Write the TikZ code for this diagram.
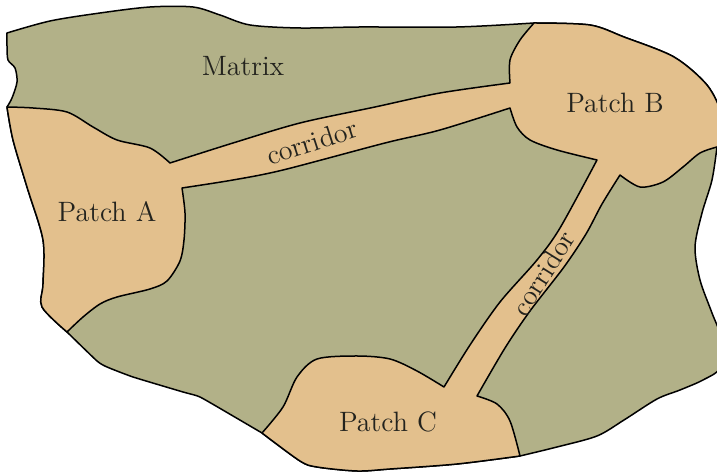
\documentclass[tikz,border=0pt]{standalone}
\definecolor{matrixgreen}{RGB}{178,177,136}
\definecolor{patchtan}{RGB}{227,192,141}
\definecolor{inkgray}{RGB}{35,35,30}
\tikzstyle{matrix area}=[fill=matrixgreen, draw=black, line width=0.75pt, line join=round]
\tikzstyle{patch area}=[fill=patchtan, draw=black, line width=0.75pt, line join=round]
\tikzstyle{region label}=[text=inkgray, font=\fontsize{14}{16}\selectfont, inner sep=0pt]

\begin{document}
\begin{tikzpicture}[x=0.5pt, y=-0.5pt]
      \useasboundingbox (0,0) rectangle (717,474);

      % junctions of the patch edges
      \coordinate (A_top) at (7,107);
      \coordinate (A_corr_top) at (170,163);
      \coordinate (A_corr_bot) at (182,188);
      \coordinate (A_bot) at (67,332);
      \coordinate (B_top) at (534,23);
      \coordinate (B_corr_top) at (510,83);
      \coordinate (B_corr_bot) at (510,108);
      \coordinate (B_right) at (717,147);
      \coordinate (B_corr2_left) at (597,160);
      \coordinate (B_corr2_right) at (620,175);
      \coordinate (C_corr_left) at (444,387);
      \coordinate (C_corr_right) at (477,396);
      \coordinate (C_left) at (262,433);
      \coordinate (C_right) at (520,456);

      % matrix (outer outline)
      \path[matrix area]
        plot[smooth] coordinates {(A_top) (12,98) (17,82) (15,68) (8,60) (7,46) (7,33)}
        -- plot[smooth] coordinates {(7,33) (50,21) (100,13) (150,7) (193,7) (220,15)
             (250,25) (300,28) (360,27) (457,27) (B_top)}
        -- plot[smooth] coordinates {(B_top) (590,25) (624,37) (674,57) (707,85)
             (722,115) (722,140) (B_right)}
        -- plot[smooth] coordinates {(B_right) (712,180) (702,213) (695,247) (700,280)
             (712,313) (722,340) (720,368) (703,380) (680,390) (657,399) (624,420)
             (597,436) (557,447) (C_right)}
        -- plot[smooth] coordinates {(C_right) (457,464) (390,469) (357,471)
             (317,467) (300,461) (C_left)}
        -- plot[smooth, tension=0.3] coordinates {(C_left) (233,416) (200,397)
             (183,392) (133,377) (107,367) (97,361) (A_bot)}
        -- plot[smooth] coordinates {(A_bot) (42,307) (43,284) (43,240) (27,187)
             (13,140) (A_top)}
        -- cycle;

      % patches A, B, C with their corridors
      \path[patch area]
        plot[smooth] coordinates {(A_top) (33,108) (67,112) (93,127) (117,140)
             (150,148) (A_corr_top)}
        -- plot[smooth] coordinates {(A_corr_top) (233,143) (300,123) (375,107)
             (440,93) (B_corr_top)}
        -- plot[smooth] coordinates {(B_corr_top) (510,60) (520,40) (B_top)}
        -- plot[smooth] coordinates {(B_top) (590,25) (624,37) (674,57) (707,85)
             (722,115) (722,140) (B_right)}
        -- plot[smooth] coordinates {(B_right) (700,153) (683,167) (663,182)
             (640,187) (B_corr2_right)}
        -- plot[smooth] coordinates {(B_corr2_right) (602,204) (586,234) (564,267)
             (530,311) (505,348) (C_corr_right)}
        -- plot[smooth] coordinates {(C_corr_right) (497,404) (510,421) (C_right)}
        -- plot[smooth] coordinates {(C_right) (457,464) (390,469) (357,471)
             (317,467) (300,461) (C_left)}
        -- plot[smooth] coordinates {(C_left) (283,407) (297,377) (317,359)
             (357,356) (390,359) (417,371) (C_corr_left)}
        -- plot[smooth] coordinates {(C_corr_left) (470,345) (500,302) (537,260)
             (560,228) (B_corr2_left)}
        -- plot[smooth] coordinates {(B_corr2_left) (557,150) (530,140) (517,127)
             (B_corr_bot)}
        -- plot[smooth] coordinates {(B_corr_bot) (440,130) (385,143)
             (283,170) (233,180) (A_corr_bot)}
        -- plot[smooth] coordinates {(A_corr_bot) (185,213) (184,240) (180,261)
             (167,281) (150,289) (117,297) (100,304) (83,317) (A_bot)}
        -- plot[smooth] coordinates {(A_bot) (42,307) (43,284) (43,240) (27,187)
             (13,140) (A_top)}
        -- cycle;

      \node[region label] (matrix) at (243,66) {Matrix};
      \node[region label] (patch_A) at (107,212) {Patch A};
      \node[region label] (patch_B) at (615,103) {Patch B};
      \node[region label] (patch_C) at (388,422) {Patch C};
      \node[region label, rotate=18] (corridor_AB) at (312,142) {corridor};
      \node[region label, rotate=58] (corridor_BC) at (543,273) {corridor};
    \end{tikzpicture}
\end{document}
